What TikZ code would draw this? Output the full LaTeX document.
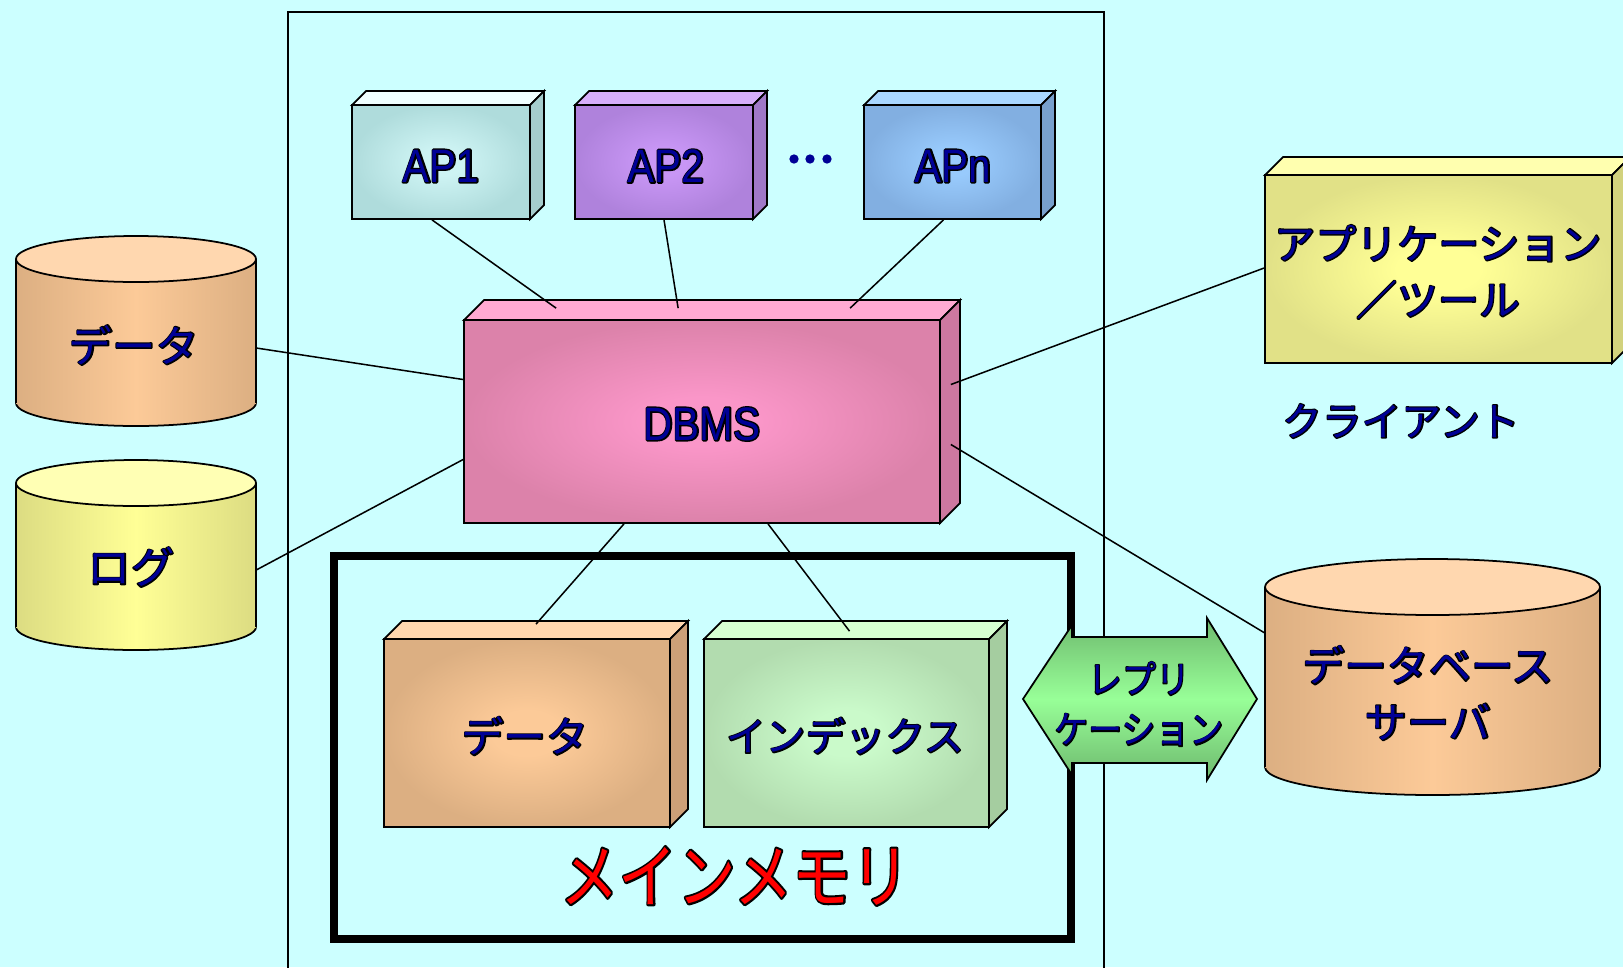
\documentclass[tikz,border=0pt]{standalone}
\usepackage{fontspec}
\usetikzlibrary{fit,calc}
\newfontfamily\jpf{Noto Sans CJK JP}
\newfontfamily\latf{Liberation Sans}[FakeStretch=0.86]
\definecolor{bgc}{RGB}{204,255,255}
\definecolor{navyc}{RGB}{0,0,150}
\definecolor{redc}{RGB}{255,0,0}
% AP1
\definecolor{apaF}{RGB}{175,220,220}\definecolor{apaC}{RGB}{205,243,243}
\definecolor{apaT}{RGB}{240,255,255}\definecolor{apaS}{RGB}{165,205,205}
% AP2
\definecolor{apbF}{RGB}{175,130,220}\definecolor{apbC}{RGB}{200,150,245}
\definecolor{apbT}{RGB}{215,175,250}\definecolor{apbS}{RGB}{160,120,200}
% APn
\definecolor{apcF}{RGB}{130,175,225}\definecolor{apcC}{RGB}{152,202,252}
\definecolor{apcT}{RGB}{170,215,255}\definecolor{apcS}{RGB}{120,160,205}
% DBMS
\definecolor{dbmF}{RGB}{220,130,170}\definecolor{dbmC}{RGB}{250,150,200}
\definecolor{dbmT}{RGB}{255,170,210}\definecolor{dbmS}{RGB}{205,120,160}
% orange
\definecolor{oraF}{RGB}{220,175,130}\definecolor{oraC}{RGB}{252,202,152}
\definecolor{oraT}{RGB}{255,215,175}\definecolor{oraS}{RGB}{205,160,120}
% yellow (log)
\definecolor{yelF}{RGB}{220,220,130}\definecolor{yelC}{RGB}{255,255,150}
\definecolor{yelT}{RGB}{255,255,180}
% app
\definecolor{appF}{RGB}{225,225,135}\definecolor{appC}{RGB}{255,255,150}
\definecolor{appT}{RGB}{255,255,175}\definecolor{appS}{RGB}{210,210,125}
% index
\definecolor{idxF}{RGB}{178,220,175}\definecolor{idxC}{RGB}{202,250,202}
\definecolor{idxT}{RGB}{215,255,210}\definecolor{idxS}{RGB}{165,205,160}
% replication
\definecolor{repE}{RGB}{110,185,110}\definecolor{repC}{RGB}{152,255,152}

\newcommand\mkshade[3]{\pgfdeclareradialshading{#1}{\pgfpoint{0bp}{0bp}}{color(0bp)=(#2); color(6bp)=(#2); color(25bp)=(#3); color(50bp)=(#3)}}
\mkshade{apaR}{apaC}{apaF}
\mkshade{apbR}{apbC}{apbF}
\mkshade{apcR}{apcC}{apcF}
\mkshade{dbmR}{dbmC}{dbmF}
\mkshade{oraR}{oraC}{oraF}
\mkshade{appR}{appC}{appF}
\mkshade{idxR}{idxC}{idxF}

% outlined text: an emboldened black copy below the coloured text
\newcommand\outl[1]{\leavevmode\rlap{\addfontfeatures{FakeBold=6}\color{black}#1}#1}

\tikzset{
  bline/.style={draw=black,line width=1.5},
  conn/.style={draw=black,line width=1.3},
  lbl/.style={inner sep=0pt,text=navyc,align=center,line join=round},
}

% #1 name, #2 x1, #3 y1, #4 x2, #5 y2, #6 depth, #7 colour prefix
\newcommand\cube[7]{%
  \filldraw[fill=#7T,bline] (#2,#3) -- (#2+#6,#3+#6) -- (#4+#6,#3+#6) -- (#4,#3) -- cycle;
  \filldraw[fill=#7S,bline] (#4,#3) -- (#4+#6,#3+#6) -- (#4+#6,#5+#6) -- (#4,#5) -- cycle;
  \shade[shading=#7R] (#2,#3) rectangle (#4,#5);
  \node[fit={(#2,#3) (#4,#5)},inner sep=0pt,bline] (#1) {};
}
% #1 name, #2 x1, #3 x2, #4 y top centre, #5 y bottom centre, #6 ry, #7 prefix
\newcommand\cyl[7]{%
  \shade[left color=#7F,right color=#7F,middle color=#7C,bline]
    ({(#2+#3)/2},#5) ellipse [x radius={(#3-#2)/2*0.03cm}, y radius={#6*0.03cm}];
  \shade[left color=#7F,right color=#7F,middle color=#7C] (#2,#4) rectangle (#3,#5);
  \draw[bline] (#2,#4) -- (#2,#5) (#3,#4) -- (#3,#5);
  \filldraw[fill=#7T,bline]
    ({(#2+#3)/2},#4) ellipse [x radius={(#3-#2)/2*0.03cm}, y radius={#6*0.03cm}];
  \node[fit={(#2,#4) (#3,#5)},inner sep=0pt] (#1) {};
}

\begin{document}
\begin{tikzpicture}[x=0.03cm,y=0.03cm]
\useasboundingbox (0,0) rectangle (1623,-967);
\fill[bgc] (0,0) rectangle (1623,-967);

% central frame
\draw[line width=1.5] (288,-1000) -- (288,-12) -- (1104,-12) -- (1104,-1000);

% storage cylinders
\cyl{dcyl}{16}{256}{-259}{-403}{23}{ora}
\cyl{lcyl}{16}{256}{-483}{-627}{23}{yel}

% application programs
\cube{ap1}{352}{-105}{530}{-219}{14}{apa}
\cube{ap2}{575}{-105}{753}{-219}{14}{apb}
\cube{apn}{864}{-105}{1041}{-219}{14}{apc}
\fill[navyc] (794,-159) circle [radius=0.14cm] (810,-159) circle [radius=0.14cm] (827,-159) circle [radius=0.14cm];

% DBMS
\cube{dbms}{464}{-320}{940}{-523}{20}{dbm}

% main memory
\node[fit={(334,-556) (1071,-939)},inner sep=0pt,draw=black,line width=7.5] (mem) {};
\cube{mdata}{384}{-639}{670}{-827}{18}{ora}
\cube{midx}{704}{-639}{989}{-827}{18}{idx}

% client application
\cube{app}{1265}{-175}{1612}{-363}{18}{app}

% database server
\cyl{dbs}{1265}{1600}{-587}{-767}{28}{ora}

% replication arrow
\shade[top color=repE,bottom color=repE,middle color=repC,bline]
  (1023,-699) -- (1072,-625) -- (1072,-637) -- (1207,-637) -- (1207,-618)
  -- (1257,-699) -- (1207,-780) -- (1207,-763) -- (1072,-763) -- (1072,-775) -- cycle;

% connectors
\draw[conn] ($(ap1.south)+(-9,0)$) -- ($(dbms.north west)+(93,11)$);
\draw[conn] (ap2.south) -- ($(dbms.north west)+(215,11)$);
\draw[conn] ($(apn.south)+(-9,0)$) -- ($(dbms.north west)+(387,11)$);
\draw[conn] ($(dcyl.east)+(0,-17)$) -- ($(dbms.west)+(0,42)$);
\draw[conn] ($(lcyl.east)+(0,-15)$) -- ($(dbms.west)+(0,-38)$);
\draw[conn] ($(dbms.east)+(10,37)$) -- ($(app.west)+(0,1)$);
\draw[conn] ($(dbms.east)+(10,-23)$) -- ($(dbs.west)+(0,44)$);
\draw[conn] ($(dbms.south)+(-78,0)$) -- ($(mdata.north)+(9,14)$);
\draw[conn] ($(dbms.south)+(66,0)$) -- ($(midx.north)+(3,7)$);

% labels
\node[lbl,font=\latf\fontsize{40}{48}\selectfont] (ap1t) at (441,-166) {\outl{AP1}};
\node[lbl,font=\latf\fontsize{40}{48}\selectfont] (ap2t) at (666,-166) {\outl{AP2}};
\node[lbl,font=\latf\fontsize{40}{48}\selectfont] (apnt) at (953,-166) {\outl{APn}};
\node[lbl,font=\latf\fontsize{40}{48}\selectfont] (dbmst) at (702,-424) {\outl{DBMS}};
\node[lbl,font=\jpf\fontsize{37}{48}\selectfont] (dcylt) at (134,-345) {\outl{データ}};
\node[lbl,font=\jpf\fontsize{37}{48}\selectfont] (lcylt) at (131,-567) {\outl{ログ}};
\node[lbl,font=\jpf\fontsize{36}{48}\selectfont] (mdatat) at (525,-736) {\outl{データ}};
\node[lbl,font=\jpf\fontsize{34}{48}\selectfont] (midxt) at (845,-736) {\outl{インデックス}};
\node[lbl,font=\jpf\fontsize{35}{48}\selectfont] (appt) at (1438,-272) {\outl{アプリケーション}\\\outl{／ツール}};
\node[lbl,font=\jpf\fontsize{34}{48}\selectfont] (clientt) at (1401,-421) {\outl{クライアント}};
\node[lbl,font=\jpf\fontsize{36}{48}\selectfont] (dbst) at (1428,-693) {\outl{データベース}\\\outl{サーバ}};
\node[lbl,font=\jpf\fontsize{29}{43}\selectfont] (rept) at (1139,-704) {\scalebox{1}[1.12]{\outl{レプリ}}\\\scalebox{1}[1.12]{\outl{ケーション}}};
\node[lbl,text=redc,font=\jpf\fontsize{50}{60}\selectfont] (memt) at (735,-876) {\scalebox{1}[1.2]{\outl{メインメモリ}}};
\end{tikzpicture}
\end{document}
